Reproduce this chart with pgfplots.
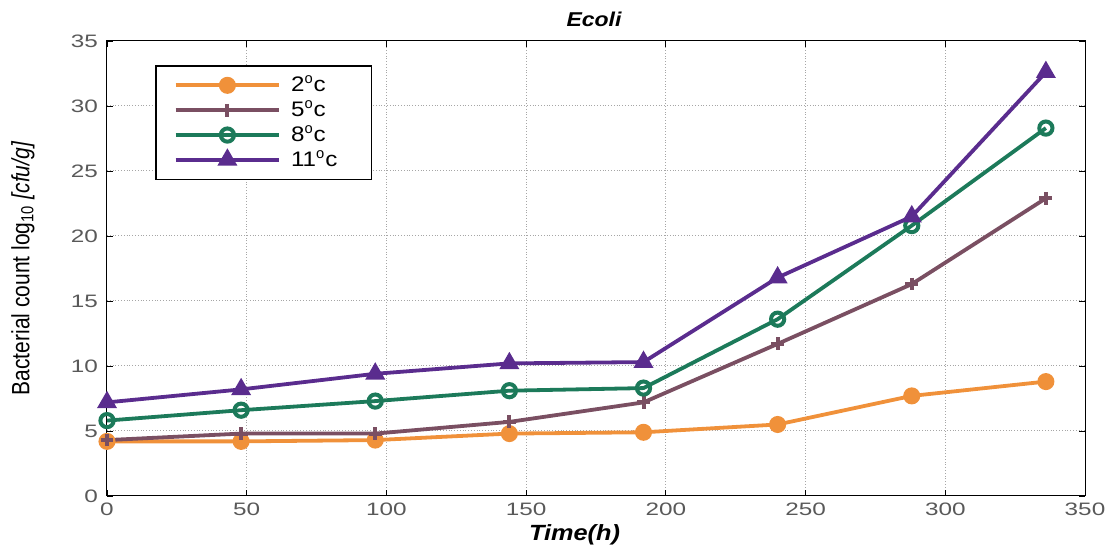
\documentclass[border=0pt]{standalone}
\usepackage{fontspec}
\setmainfont{Liberation Sans}
\newfontfamily\narrowfont[FakeStretch=0.84]{Liberation Sans}
\newfontfamily\widefont[FakeStretch=1.15]{Liberation Sans}
\newfontfamily\tickfont[FakeStretch=1.35]{Liberation Sans}
\usepackage{pgfplots}
\pgfplotsset{compat=1.18}

\definecolor{cOrange}{HTML}{F0913A}
\definecolor{cBrown}{HTML}{7A4F62}
\definecolor{cGreen}{HTML}{1C7A5A}
\definecolor{cPurple}{HTML}{5A2C8E}

\newcommand{\degc}[1]{\hspace*{3pt}#1$^{\mathrm{o}}$c\hspace*{6pt}}

\begin{document}
\begin{tikzpicture}
\begin{axis}[
  name=ax,
  scale only axis,
  width=489pt, height=227.5pt,
  xmin=0, xmax=350, ymin=0, ymax=35,
  xtick={0,50,...,350}, ytick={0,5,...,35},
  tick align=inside,
  tick style={black, thin},
  major tick length=3pt,
  grid=major,
  major grid style={gray!70, densely dotted, line width=0.5pt},
  axis line style={black, line width=0.5pt},
  tick label style={font=\tickfont\fontsize{9}{10}\selectfont, text=black!65},
  yticklabel style={xshift=-1pt},
  /pgf/number format/assume math mode=true,
  title={\widefont\bfseries\itshape Ecoli},
  title style={font=\fontsize{10}{12}\selectfont, at={(axis description cs:0.498,1)}, anchor=center, yshift=5pt},
  xlabel={\widefont\bfseries\itshape Time(h)},
  xlabel style={font=\fontsize{11}{12}\selectfont, at={(axis description cs:0.478,0)}, anchor=center, yshift=-19.5pt},
  ylabel={\narrowfont Bacterial count log\textsubscript{10} \textit{[cfu/g]}},
  ylabel style={font=\fontsize{12.5}{13}\selectfont, at={(axis description cs:-0.086,0.5)}, anchor=center},
  legend style={at={(0.049,0.947)}, anchor=north west, draw=black, line width=0.8pt,
    font=\widefont\fontsize{10.5}{11}\selectfont, row sep=-1pt, inner xsep=9pt, inner ysep=3pt,
    cells={anchor=west}},
  legend image code/.code={
    \draw[mark repeat=2, mark phase=2, #1]
      plot coordinates {(0cm,0cm) (0.91cm,0cm) (1.82cm,0cm)};
  },
  every axis plot/.append style={line width=1.9pt},
]
% 2 oC
\addplot[cOrange, mark=*, mark size=3.3pt, mark options={solid, fill=cOrange}]
  coordinates {(0,4.2) (48,4.2) (96,4.3) (144,4.8) (192,4.9) (240,5.5) (288,7.7) (336,8.8)};
\addlegendentry{\degc{2}}
% 5 oC
\addplot[cBrown, mark=+, mark size=3.2pt, mark options={solid, line width=2pt}]
  coordinates {(0,4.3) (48,4.8) (96,4.8) (144,5.7) (192,7.2) (240,11.7) (288,16.3) (336,22.9)};
\addlegendentry{\degc{5}}
% 8 oC
\addplot[cGreen, mark=o, mark size=3.3pt, mark options={solid, line width=2pt}]
  coordinates {(0,5.8) (48,6.6) (96,7.3) (144,8.1) (192,8.3) (240,13.6) (288,20.8) (336,28.3)};
\addlegendentry{\degc{8}}
% 11 oC
\addplot[cPurple, mark=triangle*, mark size=3.9pt, mark options={solid, fill=cPurple}]
  coordinates {(0,7.2) (48,8.2) (96,9.4) (144,10.2) (192,10.3) (240,16.8) (288,21.5) (336,32.6)};
\addlegendentry{\degc{11}}
\end{axis}
% page frame around the axis box and its labels
\pgfresetboundingbox
\path[use as bounding box]
  ([shift={(-53.5pt,-26.5pt)}]ax.south west) rectangle ([shift={(12.5pt,20.5pt)}]ax.north east);
\end{tikzpicture}
\end{document}
